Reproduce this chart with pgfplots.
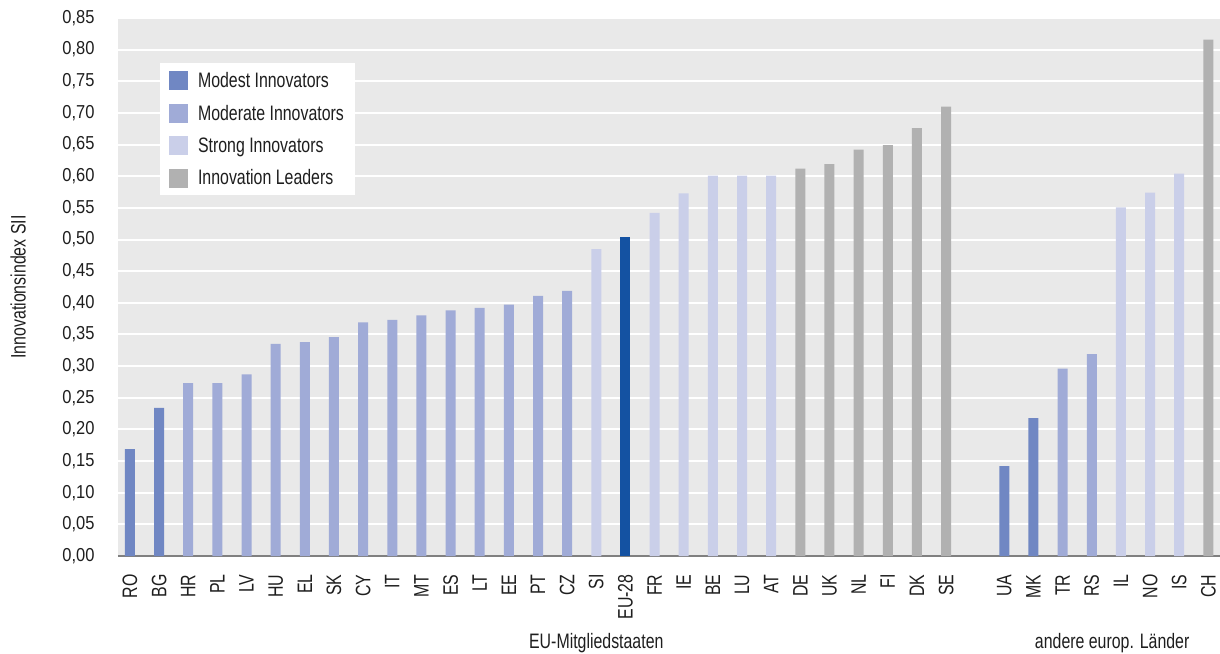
\documentclass[border=0pt]{standalone}
\usepackage{fontspec}
\setmainfont{Liberation Sans}[FakeStretch=0.76]
\newfontfamily\tickfont{Liberation Sans}[FakeStretch=0.88]
\usepackage{pgfplots}
\pgfplotsset{compat=1.18}
\definecolor{modest}{RGB}{112,135,195}
\definecolor{moderate}{RGB}{160,171,215}
\definecolor{strong}{RGB}{202,207,233}
\definecolor{leaders}{RGB}{177,177,177}
\definecolor{eu}{RGB}{20,82,162}
\definecolor{bg}{RGB}{233,233,233}
\definecolor{axgray}{RGB}{128,128,128}
\definecolor{txt}{RGB}{30,30,30}
\newcommand{\tfont}{\fontsize{21}{23}\selectfont}
\newcommand{\yfont}{\tickfont\fontsize{18.8}{20}\selectfont}
\begin{document}
\begin{tikzpicture}
\begin{axis}[
  at={(0,0)}, anchor=south west,
  scale only axis, width=1102bp, height=538bp,
  xmin=-0.41, xmax=37.4, ymin=0, ymax=0.85,
  clip=false,
  axis background/.style={fill=bg},
  axis lines*=left,
  x axis line style={draw=axgray, line width=2bp},
  y axis line style={draw=none},
  major tick length=0pt,
  ymajorgrids=true,
  major grid style={white, line width=2bp},
  ytick={0,0.05,0.1,0.15,0.2,0.25,0.3,0.35,0.4,0.45,0.5,0.55,0.6,0.65,0.7,0.75,0.8,0.85},
  yticklabel style={font=\yfont, text=txt, xshift=-20bp, /pgf/number format/.cd, use comma, fixed, fixed zerofill, precision=2, assume math mode=true},
  xtick={0,1,2,3,4,5,6,7,8,9,10,11,12,13,14,15,16,17,18,19,20,21,22,23,24,25,26,27,28,30,31,32,33,34,35,36,37},
  xticklabels={RO,BG,HR,PL,LV,HU,EL,SK,CY,IT,MT,ES,LT,EE,PT,CZ,SI,EU-28,FR,IE,BE,LU,AT,DE,UK,NL,FI,DK,SE,UA,MK,TR,RS,IL,NO,IS,CH},
  xticklabel style={font=\tfont, text=txt, rotate=90, anchor=east, xshift=-15bp},
  ylabel={Innovationsindex SII},
  ylabel style={font=\tfont, text=txt, at={(axis description cs:-0.0907,0.5)}, anchor=center},
  legend style={at={(rel axis cs:0.038,0.916)}, anchor=north west, fill=white, draw=none,
    font=\tfont, text=txt, row sep=12bp, column sep=8bp, inner xsep=9bp, inner ysep=7bp,
    cells={anchor=west}},
  legend cell align=left,
]
\addplot[ybar, bar shift=0pt, bar width=10bp, draw=none, fill=modest,
  legend image code/.code={\fill[modest] (0bp,-9.5bp) rectangle (19bp,9.5bp);}]
  table[row sep=\\] {x y\\ 0 0.169\\ 1 0.234\\ 30 0.142\\ 31 0.218\\};
\addlegendentry{Modest Innovators}
\addplot[ybar, bar shift=0pt, bar width=10bp, draw=none, fill=moderate,
  legend image code/.code={\fill[moderate] (0bp,-9.5bp) rectangle (19bp,9.5bp);}]
  table[row sep=\\] {x y\\ 2 0.273\\ 3 0.273\\ 4 0.287\\ 5 0.335\\ 6 0.338\\ 7 0.346\\ 8 0.369\\ 9 0.373\\ 10 0.380\\ 11 0.388\\ 12 0.392\\ 13 0.397\\ 14 0.411\\ 15 0.419\\ 32 0.296\\ 33 0.319\\};
\addlegendentry{Moderate Innovators}
\addplot[ybar, bar shift=0pt, bar width=10bp, draw=none, fill=strong,
  legend image code/.code={\fill[strong] (0bp,-9.5bp) rectangle (19bp,9.5bp);}]
  table[row sep=\\] {x y\\ 16 0.485\\ 18 0.542\\ 19 0.573\\ 20 0.601\\ 21 0.601\\ 22 0.601\\ 34 0.551\\ 35 0.574\\ 36 0.604\\};
\addlegendentry{Strong Innovators}
\addplot[ybar, bar shift=0pt, bar width=10bp, draw=none, fill=leaders,
  legend image code/.code={\fill[leaders] (0bp,-9.5bp) rectangle (19bp,9.5bp);}]
  table[row sep=\\] {x y\\ 23 0.612\\ 24 0.619\\ 25 0.642\\ 26 0.649\\ 27 0.676\\ 28 0.710\\ 37 0.816\\};
\addlegendentry{Innovation Leaders}
\addplot[ybar, bar shift=0pt, bar width=10bp, draw=none, fill=eu, forget plot]
  table[row sep=\\] {x y\\ 17 0.504\\};
\node[font=\tfont, text=txt] at (axis cs:16.0,0) [yshift=-87bp] {EU-Mitgliedstaaten};
\node[font=\tfont, text=txt] at (axis cs:33.7,0) [yshift=-87bp] {andere europ. Länder};
\end{axis}
\pgfresetboundingbox
\path (-118bp,-98bp) rectangle (1102bp,556bp);
\end{tikzpicture}
\end{document}
